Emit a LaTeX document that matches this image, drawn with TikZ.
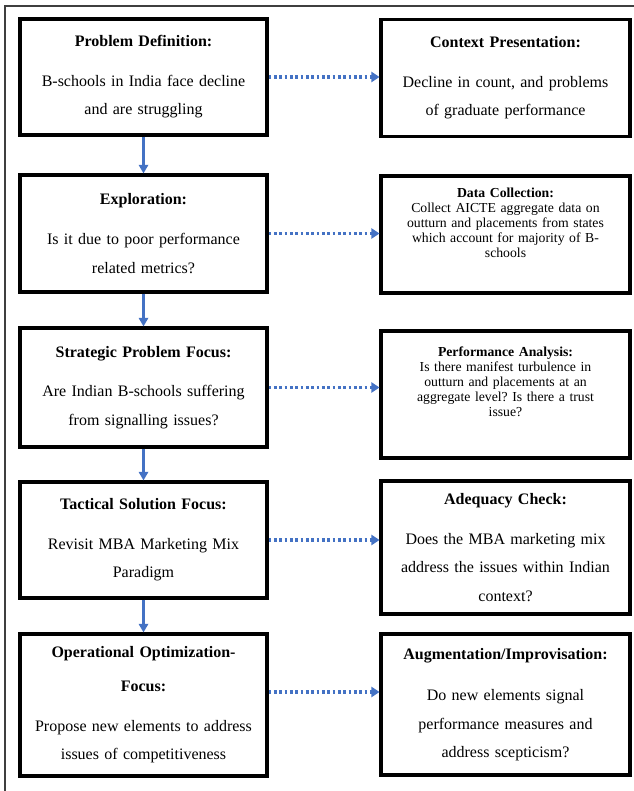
\documentclass[tikz,border=0pt]{standalone}
\usepackage{fontspec}
\setmainfont{Liberation Serif}
\usetikzlibrary{arrows.meta}
\definecolor{FlowBlue} {HTML}{4472C4}
\definecolor{FrameGray}{HTML}{3F3F3F}
\frenchspacing

\begin{document}
\begin{tikzpicture}[x=0.75pt, y=-0.75pt,
    stage/.style={draw=black, line width=2.3pt, text width=180pt, align=center,
                  minimum width=185.25pt, inner sep=0pt,
                  font=\fontsize{12}{21.3}\selectfont},
    check/.style={stage, minimum width=186.75pt},
    note/.style={check, font=\fontsize{10.3}{11.25}\selectfont},
    down/.style={FlowBlue, line width=2.1pt, -{Triangle[length=6.5pt, width=7pt]}},
    link/.style={FlowBlue, line width=2.4pt, dash pattern=on 2.2pt off 1.8pt,
                 -{Triangle[length=6pt, width=7.5pt]}}]
      \useasboundingbox (0,0) rectangle (633,791);
      \draw[FrameGray, line width=0.8pt] (5,6) rectangle (650,810);

      % left column: the path of the problem
      \node[stage, minimum height=87pt] (prob) at (143.5,77) {
        {\bfseries Problem Definition:}\\[8.5pt]
        B-schools in India face decline\\ and are struggling};
      \node[stage, minimum height=87.75pt] (expl) at (143.5,233.5) {
        {\bfseries Exploration:}\\[8.5pt]
        Is it due to poor performance\\ related metrics?};
      \node[stage, minimum height=89.25pt] (strat) at (143.5,387.5) {
        {\bfseries Strategic Problem Focus:}\\[8.5pt]
        Are Indian B-schools suffering\\ from signalling issues?};
      \node[stage, minimum height=87pt] (tact) at (143.5,540) {
        {\bfseries Tactical Solution Focus:}\\[8.5pt]
        Revisit MBA Marketing Mix\\ Paradigm};
      \node[stage, minimum height=106.5pt] (oper) at (143.5,705) {
        {\bfseries Operational Optimization-\\[4pt] Focus:}\\[8.5pt]
        Propose new elements to address\\ issues of competitiveness};

      % right column: what each step checks
      \node[check, minimum height=87.75pt] (ctx) at (505.5,78) {
        {\bfseries Context Presentation:}\\[8.5pt]
        Decline in count, and problems\\ of graduate performance};
      \node[note, minimum height=87.75pt] (data) at (505.5,234.5) {
        {\bfseries Data Collection:}\\
        Collect AICTE aggregate data on\\ outturn and placements from states\\
        which account for majority of B-\\ schools\\[6pt]\mbox{}};
      \node[note, minimum height=95.25pt] (perf) at (505.5,394.5) {
        {\bfseries Performance Analysis:}\\
        Is there manifest turbulence in\\ outturn and placements at an\\
        aggregate level? Is there a trust\\ issue?\\[8pt]\mbox{}};
      \node[check, minimum height=99.75pt] (adeq) at (505.5,547.5) {
        {\bfseries Adequacy Check:}\\[8.5pt]
        Does the MBA marketing mix\\ address the issues within Indian\\ context?};
      \node[check, minimum height=105.75pt] (augm) at (505.5,704.5) {
        {\bfseries Augmentation/Improvisation:}\\[10pt]
        Do new elements signal\\ performance measures and\\ address scepticism?};

      % connectors
      \draw[down] (prob) -- (expl);
      \draw[down] (expl) -- (strat);
      \draw[down] (strat) -- (tact);
      \draw[down] (tact) -- (oper);

      \draw[link] (prob.east) -- (prob.east -| ctx.west);
      \draw[link] (expl.east) -- (expl.east -| data.west);
      \draw[link] (strat.east) -- (strat.east -| perf.west);
      \draw[link] (tact.east) -- (tact.east -| adeq.west);
      \draw[link] ([yshift=9.75pt]oper.east) -- ([yshift=9.75pt]oper.east -| augm.west);
\end{tikzpicture}
\end{document}
